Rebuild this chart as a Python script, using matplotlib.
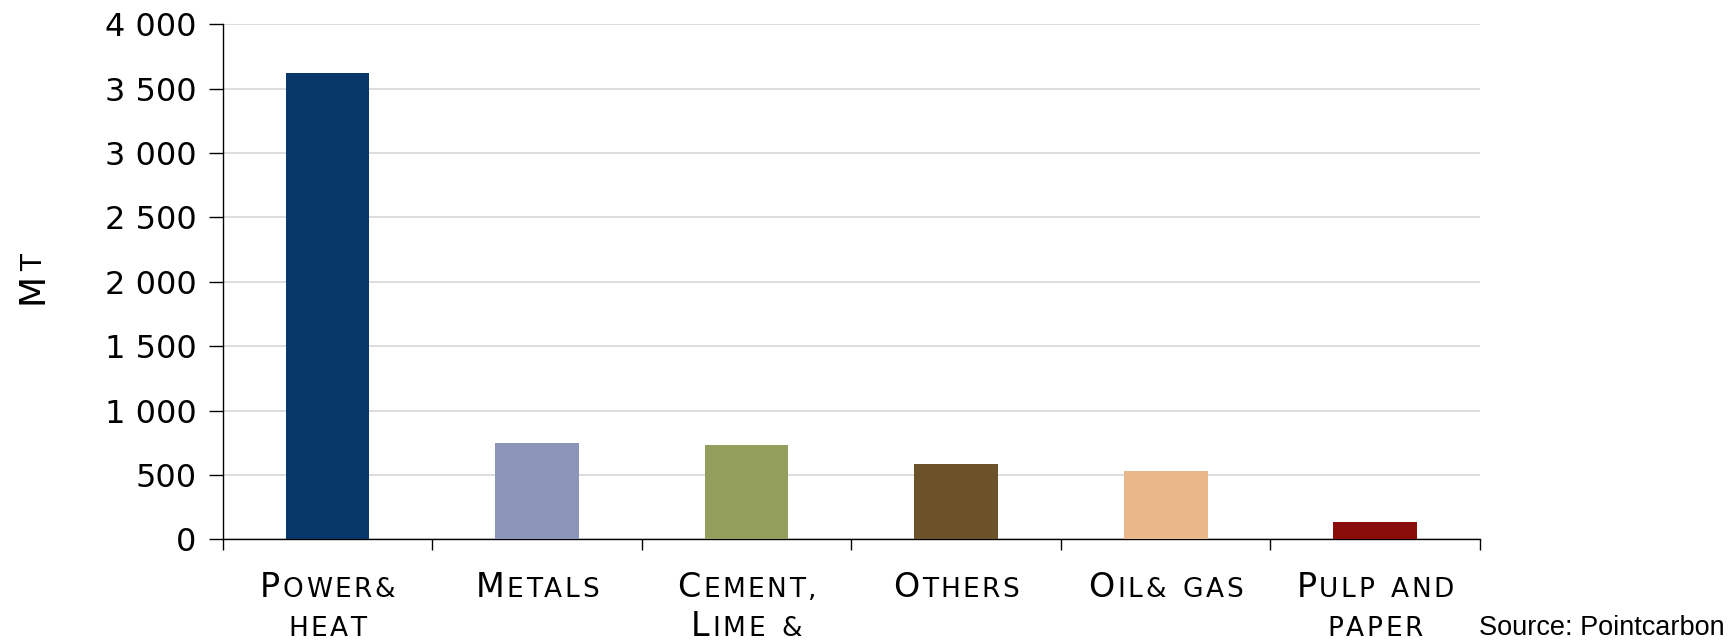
import numpy as np
import matplotlib
matplotlib.use("Agg")
import matplotlib.pyplot as plt
from matplotlib.transforms import IdentityTransform

# Emissions by sector (Mt)
sectors = ["Power& heat", "Metals", "Cement, Lime &", "Others", "Oil& gas", "Pulp and paper"]
label_lines = [["Power&", "heat"], ["Metals"], ["Cement,", "Lime &"],
               ["Others"], ["Oil& gas"], ["Pulp and", "paper"]]
emissions = [3625, 745, 735, 583, 530, 134]
bar_colors = ["#08386a", "#8c95b8", "#939e5c", "#6b5229", "#e8b88a", "#8a0d0b"]
y_ticks = [0, 500, 1000, 1500, 2000, 2500, 3000, 3500, 4000]

W, H = 1729, 642
fig = plt.figure(figsize=(W / 100, H / 100), dpi=100)
fig.patch.set_facecolor("white")
ax = fig.add_axes([222.7 / W, 1 - 539.3 / H, (1480 - 222.7) / W, (539.3 - 24.3) / H])

x = np.arange(len(sectors))
ax.bar(x, emissions, width=0.4, color=bar_colors, zorder=3)

ax.set_xlim(-0.5, len(sectors) - 0.5)
ax.set_ylim(0, 4000)
ax.set_yticks(y_ticks)
ax.set_yticklabels([f"{v:,}".replace(",", " ") for v in y_ticks],
                   fontsize=23, family="DejaVu Sans")
ax.set_xticks(np.arange(-0.5, len(sectors), 1.0))
ax.set_xticklabels([])
ax.tick_params(axis="x", length=8, width=1.0, direction="out")
ax.tick_params(axis="y", length=10, width=1.0, direction="out", pad=9)
ax.grid(axis="y", color="#d3d3d3", linewidth=1.1, zorder=0)
ax.set_axisbelow(True)
for side in ("top", "right"):
    ax.spines[side].set_visible(False)
for side in ("left", "bottom"):
    ax.spines[side].set_linewidth(1.0)

renderer = fig.canvas.get_renderer()


def caps_line(text, cx, baseline, big=24, small=19, track=2.5, gap=12.0):
    # small-caps look: capitals large, everything else as smaller capitals
    items = []
    for ch in text:
        if ch == " ":
            items.append(None)
            continue
        size = big if ch.isupper() else small
        items.append(fig.text(0, 0, ch.upper(), fontsize=size, family="DejaVu Sans",
                              ha="left", va="baseline", transform=IdentityTransform()))
    widths = [gap if t is None else t.get_window_extent(renderer).width for t in items]
    total = sum(widths) + track * (len(items) - 1)
    xpos = cx - total / 2
    for t, w in zip(items, widths):
        if t is not None:
            t.set_position((xpos, baseline))
        xpos += w + track


baselines = [H - 597, H - 636]
for i, lines in enumerate(label_lines):
    cx = ax.transData.transform((x[i], 0))[0]
    for line, base in zip(lines, baselines):
        caps_line(line, cx, base)

# y-axis unit, rotated small caps
m = fig.text(42, H - 304, "M", fontsize=26, family="DejaVu Sans", rotation=90,
             rotation_mode="anchor", ha="left", va="baseline", transform=IdentityTransform())
mh = m.get_window_extent(renderer).height
fig.text(42, H - 304 + mh + 2, "T", fontsize=20, family="DejaVu Sans", rotation=90,
         rotation_mode="anchor", ha="left", va="baseline", transform=IdentityTransform())

fig.text(1725 / W, (H - 635) / H, "Source: Pointcarbon", ha="right", va="baseline",
         family="Liberation Sans", fontsize=19.5)

fig.savefig("out.png", dpi=100, facecolor="white")
